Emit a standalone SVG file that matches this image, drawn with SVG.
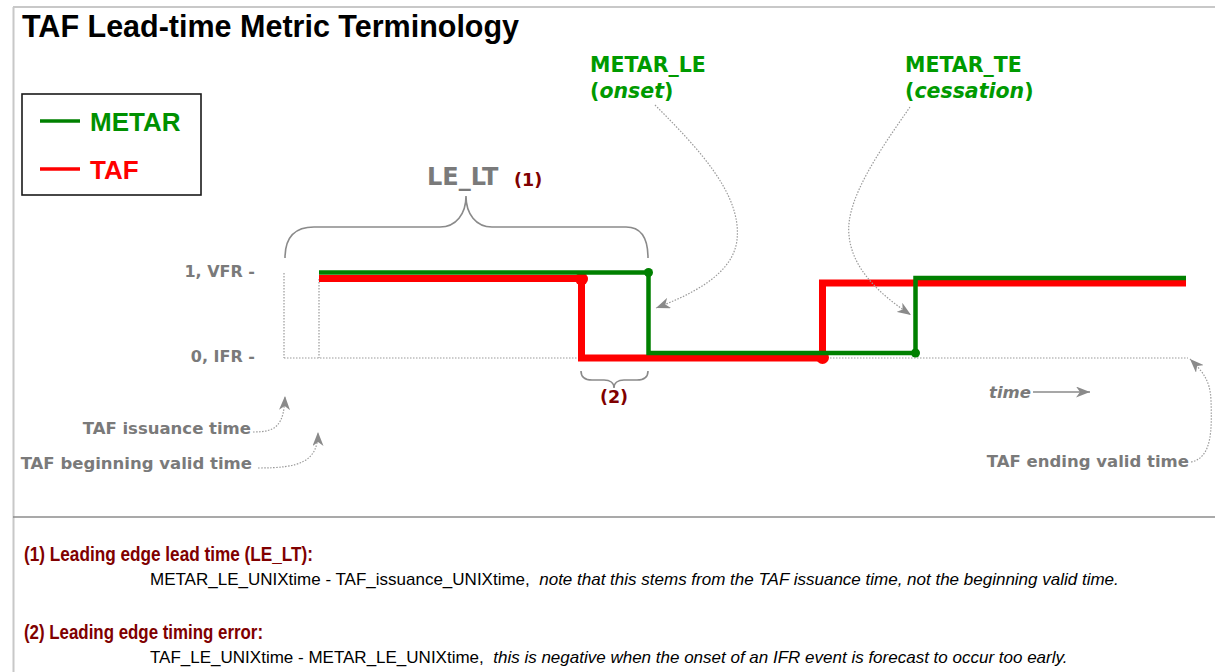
<svg xmlns="http://www.w3.org/2000/svg" width="1215" height="672" viewBox="0 0 1215 672">
<style>
  .lbl{font-family:"DejaVu Sans",Verdana,sans-serif;font-weight:bold;fill:#7a7a7a;font-size:16.5px}
  .grn{font-family:"DejaVu Sans",Verdana,sans-serif;font-weight:bold;fill:#009a00;font-size:20.5px}
  .dred{font-family:"DejaVu Sans",Verdana,sans-serif;font-weight:bold;fill:#800000;font-size:17.5px}
  .dot{fill:none;stroke:#9a9a9a;stroke-width:1.2;stroke-dasharray:1.5 1.5}
  .brace{fill:none;stroke:#8a8a8a;stroke-width:1.6}
  .metar{fill:none;stroke:#008000;stroke-width:4.5}
  .taf{fill:none;stroke:#ff0000;stroke-width:7}
  .note{font-family:"Liberation Sans",Arial,sans-serif;font-size:17px;fill:#000}
  .head{font-family:"Liberation Sans",Arial,sans-serif;font-size:20px;font-weight:bold;fill:#800000}
</style>
<defs>
  <marker id="ah" markerUnits="userSpaceOnUse" viewBox="0 0 14 11" refX="14" refY="5.5" markerWidth="14" markerHeight="11" orient="auto">
    <path d="M0,0 L14,5.5 L0,11 L4,5.5 Z" fill="#8a8a8a"/>
  </marker>
</defs>
<rect width="1215" height="672" fill="#ffffff"/>
<g id="frame">
  <line x1="13.5" y1="7" x2="13.5" y2="672" stroke="#c8c8c8" stroke-width="2"/>
  <line x1="13" y1="7" x2="1215" y2="7" stroke="#c8c8c8" stroke-width="2"/>
  <line x1="13" y1="517" x2="1215" y2="517" stroke="#8c8c8c" stroke-width="1.5"/>
</g>
<g id="title">
  <text x="22" y="37" font-family="Liberation Sans, Arial, sans-serif" font-weight="bold" font-size="30.5" fill="#000">TAF Lead-time Metric Terminology</text>
</g>
<g id="legend">
  <rect x="22" y="94" width="179" height="101" fill="#fff" stroke="#1a1a1a" stroke-width="1.6"/>
  <line x1="40" y1="121" x2="80" y2="121" stroke="#008000" stroke-width="3.5"/>
  <text x="90" y="131" font-family="Liberation Sans, Arial, sans-serif" font-weight="bold" font-size="26" fill="#009000">METAR</text>
  <line x1="40" y1="169" x2="80" y2="169" stroke="#ff0000" stroke-width="3.5"/>
  <text x="90" y="179" font-family="Liberation Sans, Arial, sans-serif" font-weight="bold" font-size="26" fill="#ff0000">TAF</text>
</g>
<g id="axis-labels">
  <text class="lbl" x="255" y="277" text-anchor="end" style="font-size:16px">1, VFR -</text>
  <text class="lbl" x="255" y="362" text-anchor="end" style="font-size:16px">0, IFR -</text>
</g>
<g id="guides">
  <line class="dot" x1="284" y1="273" x2="284" y2="358"/>
  <line class="dot" x1="319" y1="279" x2="319" y2="358"/>
  <line class="dot" x1="284" y1="358" x2="1188" y2="358"/>
</g>
<g id="taf-series">
  <polyline class="taf" points="319,278.5 581.5,278.5 581.5,358 822.5,358 822.5,283 1186,283"/>
  <circle cx="581.5" cy="279" r="6.5" fill="#ff0000"/>
  <circle cx="822.5" cy="357.5" r="6.5" fill="#ff0000"/>
</g>
<g id="metar-series">
  <polyline class="metar" points="319,272.5 648.5,272.5 648.5,353 915.5,353 915.5,278 1186,278"/>
  <circle cx="648.5" cy="272.5" r="4.5" fill="#008000"/>
  <circle cx="915.5" cy="353" r="4.5" fill="#008000"/>
</g>
<g id="le-lt-brace">
  <path class="brace" d="M285,258 C285,236 296,227 314,227 L440,227 C456,227 466,214 466,196 C466,214 476,227 492,227 L626,227 C641,227 648,238 648,258"/>
  <text class="lbl" x="427" y="185" style="font-size:24px">LE_LT</text>
  <text class="dred" x="514" y="186">(1)</text>
</g>
<g id="error-brace">
  <path class="brace" d="M581,371 C581,377 584,380 592,380 L604,380 C610,380 614,383 614,388 C614,383 618,380 624,380 L637,380 C645,380 648,377 648,371"/>
  <text class="dred" x="614" y="403" text-anchor="middle">(2)</text>
</g>
<g id="metar-le-label">
  <text class="grn" x="590" y="72">METAR_LE</text>
  <text class="grn" x="590" y="98">(<tspan font-style="italic">onset</tspan>)</text>
</g>
<g id="metar-te-label">
  <text class="grn" x="905" y="72">METAR_TE</text>
  <text class="grn" x="905" y="98">(<tspan font-style="italic">cessation</tspan>)</text>
</g>
<g id="time-labels">
  <text class="lbl" x="251" y="434" text-anchor="end">TAF issuance time</text>
  <text class="lbl" x="252" y="469" text-anchor="end">TAF beginning valid time</text>
  <text class="lbl" x="1189" y="467" text-anchor="end">TAF ending valid time</text>
  <text class="lbl" x="989" y="398" font-style="italic">time</text>
</g>
<g id="connectors">
  <path class="dot" d="M655,105 C700,150 742,195 737,240 C733,275 690,295 656,308" marker-end="url(#ah)"/>
  <path class="dot" d="M910,107 C880,150 845,200 849,235 C852,270 882,296 911,315" marker-end="url(#ah)"/>
  <path class="dot" d="M253,432 C276,432 284,426 285,396" marker-end="url(#ah)"/>
  <path class="dot" d="M258,468 C300,468 318,462 318,432" marker-end="url(#ah)"/>
  <path class="dot" d="M1191,462 C1212,458 1212,430 1211,400 C1210,380 1203,372 1190,359" marker-end="url(#ah)"/>
  <line x1="1033" y1="392" x2="1090" y2="392" stroke="#8a8a8a" stroke-width="1.6" marker-end="url(#ah)"/>
</g>
<g id="definitions">
  <text class="head" x="24" y="561" textLength="289" lengthAdjust="spacingAndGlyphs">(1) Leading edge lead time (LE_LT):</text>
  <text class="note" x="150" y="585" xml:space="preserve">METAR_LE_UNIXtime - TAF_issuance_UNIXtime,  <tspan font-style="italic">note that this stems from the TAF issuance time, not the beginning valid time.</tspan></text>
  <text class="head" x="24" y="639" textLength="239" lengthAdjust="spacingAndGlyphs">(2) Leading edge timing error:</text>
  <text class="note" x="150" y="663" xml:space="preserve">TAF_LE_UNIXtime - METAR_LE_UNIXtime,  <tspan font-style="italic">this is negative when the onset of an IFR event is forecast to occur too early.</tspan></text>
</g>
</svg>
